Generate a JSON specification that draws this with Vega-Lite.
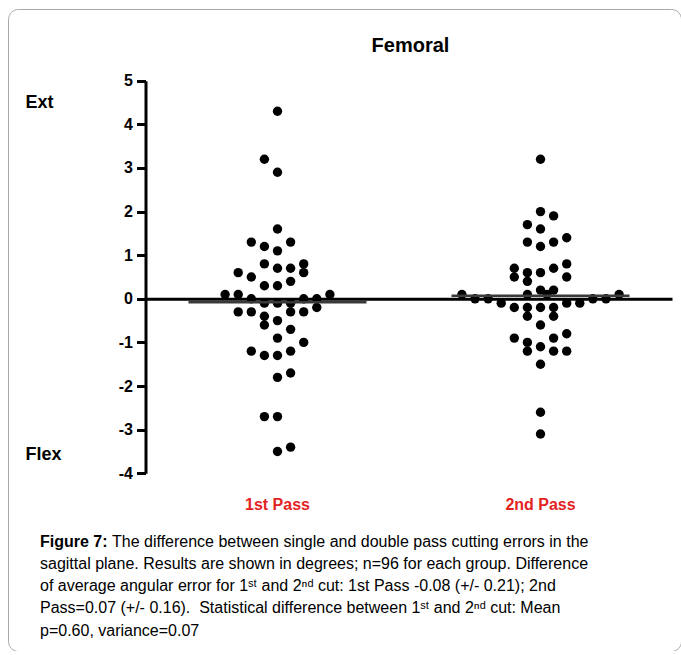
{
  "$schema": "https://vega.github.io/schema/vega-lite/v6.json",
  "autosize": {"type": "none"},
  "padding": {"left": 8, "top": 9, "right": 0, "bottom": 0},
  "width": 673,
  "height": 642,
  "background": "white",
  "config": {
    "font": "Liberation Sans",
    "view": {"stroke": "#a8a8a8", "strokeWidth": 1, "cornerRadius": 10},
    "axis": {"grid": false}
  },
  "title": {
    "text": "Femoral",
    "font": "Liberation Sans",
    "fontSize": 20,
    "fontWeight": "bold",
    "color": "#000000",
    "anchor": "middle",
    "frame": "group",
    "dx": 66,
    "offset": -47
  },
  "layer": [
    {
      "layer": [
        {
          "data": {
            "values": [
              {"pass": "1st Pass", "deg": 4.3, "col": 0},
              {"pass": "1st Pass", "deg": 3.2, "col": -1},
              {"pass": "1st Pass", "deg": 2.9, "col": 0},
              {"pass": "1st Pass", "deg": 1.6, "col": 0},
              {"pass": "1st Pass", "deg": 1.3, "col": -2},
              {"pass": "1st Pass", "deg": 1.3, "col": 1},
              {"pass": "1st Pass", "deg": 1.2, "col": -1},
              {"pass": "1st Pass", "deg": 1.1, "col": 0},
              {"pass": "1st Pass", "deg": 0.8, "col": -1},
              {"pass": "1st Pass", "deg": 0.8, "col": 2},
              {"pass": "1st Pass", "deg": 0.6, "col": -3},
              {"pass": "1st Pass", "deg": 0.7, "col": 0},
              {"pass": "1st Pass", "deg": 0.7, "col": 1},
              {"pass": "1st Pass", "deg": 0.6, "col": 2},
              {"pass": "1st Pass", "deg": 0.5, "col": -2},
              {"pass": "1st Pass", "deg": 0.3, "col": -1},
              {"pass": "1st Pass", "deg": 0.3, "col": 0},
              {"pass": "1st Pass", "deg": 0.4, "col": 1},
              {"pass": "1st Pass", "deg": 0.1, "col": -4},
              {"pass": "1st Pass", "deg": 0.1, "col": -3},
              {"pass": "1st Pass", "deg": 0.1, "col": 4},
              {"pass": "1st Pass", "deg": 0.0, "col": -2},
              {"pass": "1st Pass", "deg": 0.0, "col": 2},
              {"pass": "1st Pass", "deg": 0.0, "col": 3},
              {"pass": "1st Pass", "deg": -0.1, "col": -1},
              {"pass": "1st Pass", "deg": -0.1, "col": 0},
              {"pass": "1st Pass", "deg": -0.1, "col": 1},
              {"pass": "1st Pass", "deg": -0.3, "col": -3},
              {"pass": "1st Pass", "deg": -0.3, "col": -2},
              {"pass": "1st Pass", "deg": -0.3, "col": 1},
              {"pass": "1st Pass", "deg": -0.3, "col": 2},
              {"pass": "1st Pass", "deg": -0.2, "col": 3},
              {"pass": "1st Pass", "deg": -0.4, "col": -1},
              {"pass": "1st Pass", "deg": -0.5, "col": 0},
              {"pass": "1st Pass", "deg": -0.6, "col": -1},
              {"pass": "1st Pass", "deg": -0.7, "col": 1},
              {"pass": "1st Pass", "deg": -0.9, "col": 0},
              {"pass": "1st Pass", "deg": -1.0, "col": 2},
              {"pass": "1st Pass", "deg": -1.2, "col": -2},
              {"pass": "1st Pass", "deg": -1.3, "col": -1},
              {"pass": "1st Pass", "deg": -1.3, "col": 0},
              {"pass": "1st Pass", "deg": -1.2, "col": 1},
              {"pass": "1st Pass", "deg": -1.8, "col": 0},
              {"pass": "1st Pass", "deg": -1.7, "col": 1},
              {"pass": "1st Pass", "deg": -2.7, "col": -1},
              {"pass": "1st Pass", "deg": -2.7, "col": 0},
              {"pass": "1st Pass", "deg": -3.5, "col": 0},
              {"pass": "1st Pass", "deg": -3.4, "col": 1},
              {"pass": "2nd Pass", "deg": 3.2, "col": 0},
              {"pass": "2nd Pass", "deg": 2.0, "col": 0},
              {"pass": "2nd Pass", "deg": 1.9, "col": 1},
              {"pass": "2nd Pass", "deg": 1.7, "col": -1},
              {"pass": "2nd Pass", "deg": 1.6, "col": 0},
              {"pass": "2nd Pass", "deg": 1.3, "col": -1},
              {"pass": "2nd Pass", "deg": 1.2, "col": 0},
              {"pass": "2nd Pass", "deg": 1.3, "col": 1},
              {"pass": "2nd Pass", "deg": 1.4, "col": 2},
              {"pass": "2nd Pass", "deg": 0.7, "col": -2},
              {"pass": "2nd Pass", "deg": 0.5, "col": -2},
              {"pass": "2nd Pass", "deg": 0.6, "col": -1},
              {"pass": "2nd Pass", "deg": 0.4, "col": -1},
              {"pass": "2nd Pass", "deg": 0.6, "col": 0},
              {"pass": "2nd Pass", "deg": 0.7, "col": 1},
              {"pass": "2nd Pass", "deg": 0.8, "col": 2},
              {"pass": "2nd Pass", "deg": 0.5, "col": 2},
              {"pass": "2nd Pass", "deg": 0.2, "col": 0},
              {"pass": "2nd Pass", "deg": 0.2, "col": 1},
              {"pass": "2nd Pass", "deg": 0.1, "col": -1},
              {"pass": "2nd Pass", "deg": 0.1, "col": 0.5},
              {"pass": "2nd Pass", "deg": 0.1, "col": -6},
              {"pass": "2nd Pass", "deg": 0.1, "col": 6},
              {"pass": "2nd Pass", "deg": 0.0, "col": -5},
              {"pass": "2nd Pass", "deg": 0.0, "col": -4},
              {"pass": "2nd Pass", "deg": -0.1, "col": -3},
              {"pass": "2nd Pass", "deg": -0.2, "col": -2},
              {"pass": "2nd Pass", "deg": -0.2, "col": -1},
              {"pass": "2nd Pass", "deg": -0.2, "col": 0},
              {"pass": "2nd Pass", "deg": -0.2, "col": 1},
              {"pass": "2nd Pass", "deg": -0.1, "col": 2},
              {"pass": "2nd Pass", "deg": -0.1, "col": 3},
              {"pass": "2nd Pass", "deg": 0.0, "col": 4},
              {"pass": "2nd Pass", "deg": 0.0, "col": 5},
              {"pass": "2nd Pass", "deg": -0.4, "col": -1},
              {"pass": "2nd Pass", "deg": -0.4, "col": 1},
              {"pass": "2nd Pass", "deg": -0.6, "col": 0},
              {"pass": "2nd Pass", "deg": -0.9, "col": -2},
              {"pass": "2nd Pass", "deg": -0.8, "col": 2},
              {"pass": "2nd Pass", "deg": -0.9, "col": 1},
              {"pass": "2nd Pass", "deg": -1.0, "col": -1},
              {"pass": "2nd Pass", "deg": -1.2, "col": -1},
              {"pass": "2nd Pass", "deg": -1.1, "col": 0},
              {"pass": "2nd Pass", "deg": -1.2, "col": 1},
              {"pass": "2nd Pass", "deg": -1.2, "col": 2},
              {"pass": "2nd Pass", "deg": -1.5, "col": 0},
              {"pass": "2nd Pass", "deg": -2.6, "col": 0},
              {"pass": "2nd Pass", "deg": -3.1, "col": 0}
            ]
          },
          "mark": {"type": "circle", "size": 88, "color": "#000000", "opacity": 1},
          "encoding": {
            "x": {
              "field": "pass",
              "type": "nominal",
              "scale": {"type": "band", "domain": ["1st Pass", "2nd Pass"], "range": [138, 664], "paddingInner": 0, "paddingOuter": 0},
              "axis": {
                "title": null,
                "orient": "bottom",
                "offset": -352.2,
                "domain": true,
                "domainColor": "#000000",
                "domainWidth": 3,
                "ticks": false,
                "labelColor": "#e3231f",
                "labelFont": "Liberation Sans",
                "labelFontSize": 16,
                "labelFontWeight": "bold",
                "labelBaseline": "middle",
                "labelPadding": 206,
                "labelAngle": 0
              }
            },
            "xOffset": {
              "field": "col",
              "type": "quantitative",
              "scale": {"domain": [-10.04, 10.04], "range": [0, 263]}
            },
            "y": {
              "field": "deg",
              "type": "quantitative",
              "scale": {"domain": [-4, 5], "range": [464.3, 71.7], "nice": false, "zero": false},
              "axis": {
                "title": null,
                "orient": "left",
                "offset": -137.5,
                "values": [-4, -3, -2, -1, 0, 1, 2, 3, 4, 5],
                "labelExpr": "'' + datum.value",
                "domainColor": "#000000",
                "domainWidth": 3,
                "tickColor": "#000000",
                "tickWidth": 3,
                "tickSize": 9,
                "labelFont": "Liberation Sans",
                "labelFontSize": 16,
                "labelFontWeight": "bold",
                "labelColor": "#000000",
                "labelPadding": 4
              }
            }
          }
        },
        {
          "data": {
            "values": [
              {"pass": "1st Pass", "mean": -0.08},
              {"pass": "2nd Pass", "mean": 0.07}
            ]
          },
          "mark": {"type": "tick", "orient": "horizontal", "size": 178, "thickness": 2.5, "color": "#3a3a3a", "opacity": 1},
          "encoding": {
            "x": {"field": "pass", "type": "nominal"},
            "y": {
              "field": "mean",
              "type": "quantitative",
              "axis": {
                "title": null,
                "orient": "left",
                "offset": -17,
                "values": [4.5, -3.58],
                "labelExpr": "datum.value > 0 ? 'Ext' : 'Flex'",
                "domain": false,
                "ticks": false,
                "tickSize": 0,
                "labelPadding": 0,
                "labelAlign": "left",
                "labelBaseline": "middle",
                "labelFont": "Liberation Sans",
                "labelFontSize": 18,
                "labelFontWeight": "bold",
                "labelColor": "#000000"
              }
            }
          }
        }
      ],
      "resolve": {"axis": {"y": "independent"}}
    },
    {
      "data": {
        "values": [
          {"line": 1, "part": "label", "text": "Figure 7:"},
          {"line": 1, "part": "text", "text": "The difference between single and double pass cutting errors in the"},
          {"line": 2, "part": "text", "text": "sagittal plane. Results are shown in degrees; n=96 for each group. Difference"},
          {"line": 3, "part": "text", "text": "of average angular error for 1ˢᵗ and 2ⁿᵈ cut: 1st Pass -0.08 (+/- 0.21); 2nd"},
          {"line": 4, "part": "text", "text": "Pass=0.07 (+/- 0.16).\u00a0 Statistical difference between 1ˢᵗ and 2ⁿᵈ cut: Mean"},
          {"line": 5, "part": "text", "text": "p=0.60, variance=0.07"}
        ]
      },
      "encoding": {
        "y": {
          "field": "line",
          "type": "ordinal",
          "scale": {"type": "point", "domain": [1, 2, 3, 4, 5], "range": [532.5, 621.5], "padding": 0},
          "axis": null
        },
        "text": {"field": "text"}
      },
      "layer": [
        {
          "transform": [{"filter": "datum.part == 'label'"}],
          "mark": {"type": "text", "align": "left", "baseline": "middle", "font": "Liberation Sans", "fontSize": 16, "fontWeight": "bold", "color": "#000000"},
          "encoding": {
            "x": {"datum": "lead", "type": "ordinal", "scale": {"type": "point", "domain": ["lead", "follow"], "range": [32, 104], "padding": 0}, "axis": null}
          }
        },
        {
          "transform": [{"filter": "datum.part == 'text' && datum.line == 1"}],
          "mark": {"type": "text", "align": "left", "baseline": "middle", "font": "Liberation Sans", "fontSize": 16, "color": "#000000"},
          "encoding": {
            "x": {"datum": "follow", "type": "ordinal", "axis": null}
          }
        },
        {
          "transform": [{"filter": "datum.part == 'text' && datum.line > 1"}],
          "mark": {"type": "text", "align": "left", "baseline": "middle", "font": "Liberation Sans", "fontSize": 16, "color": "#000000"},
          "encoding": {
            "x": {"datum": "lead", "type": "ordinal", "axis": null}
          }
        }
      ]
    }
  ],
  "resolve": {"scale": {"x": "independent", "y": "independent"}}
}
